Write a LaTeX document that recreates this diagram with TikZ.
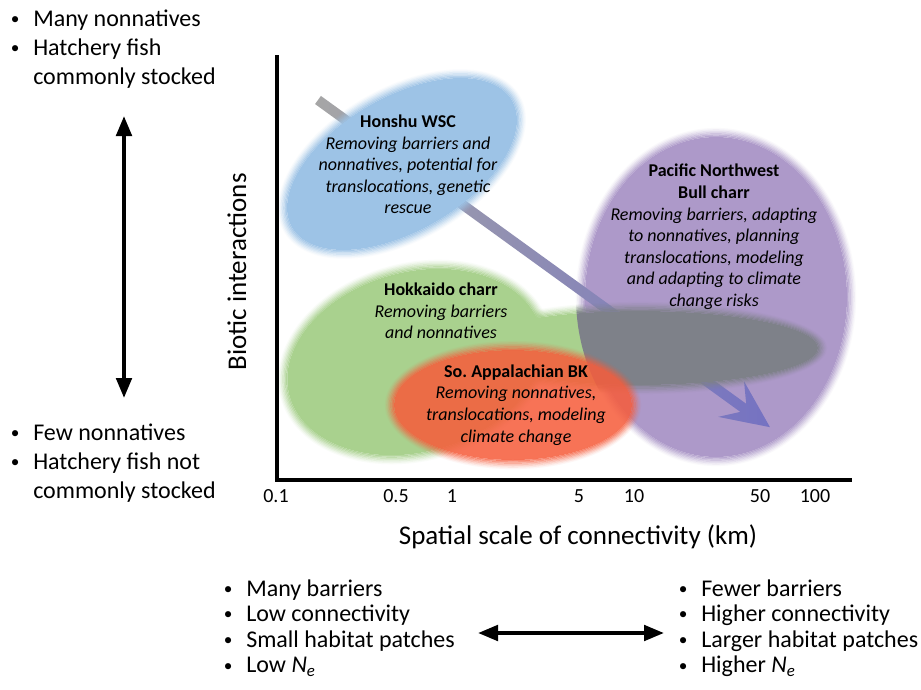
\documentclass[tikz,border=0pt]{standalone}
\usepackage{fontspec}
\setmainfont{Carlito}
\usetikzlibrary{arrows.meta}

\definecolor{blobblue}{HTML}{9DC3E6}
\definecolor{blobgreen}{HTML}{A9D18E}
\definecolor{blobpurple}{HTML}{AD99C9}
\definecolor{blobgray}{HTML}{7E8189}
\definecolor{blobred}{HTML}{F65C3B}
\definecolor{trendgray}{HTML}{A6A6A6}
\definecolor{trendblue}{HTML}{7572C2}

% soft-edged ellipse: colour, centre x, centre y, x radius, y radius, angle, opacity
\newcommand\softblob[7]{%
  \begin{scope}[rotate around={#6:(#2,#3)}]
    \fill[#1, fill opacity=#7] (#2,#3) ellipse [x radius=#4, y radius=#5];
    \foreach \k/\o in {1/0.85,2/0.7,3/0.55,4/0.4,5/0.27,6/0.15,7/0.06} {
      \pgfmathsetmacro\op{#7*\o}
      \fill[#1, fill opacity=\op, even odd rule]
        (#2,#3) ellipse [x radius={#4+(\k-1)*1.3}, y radius={#5+(\k-1)*1.3}]
        (#2,#3) ellipse [x radius={#4+\k*1.3}, y radius={#5+\k*1.3}];
    }
  \end{scope}}

% small bullet hanging to the left of a list line
\newcommand\bul{\llap{\makebox[27pt][c]{\raisebox{0.07em}{\scalebox{0.72}{\textbullet}}}}}

\tikzset{
  listline/.style={anchor=base west, inner sep=0pt, font=\fontsize{18}{21}\selectfont},
  bloblabel/.style={align=center, inner sep=0pt, font=\fontsize{13.5}{16.2}\selectfont},
  ticklabel/.style={anchor=base, inner sep=0pt, font=\fontsize{15}{18}\selectfont},
  axislabel/.style={anchor=base, inner sep=0pt, font=\fontsize{20.25}{24}\selectfont},
  axisline/.style={line width=2.6pt},
  twoway/.style={line width=3pt, {Triangle[length=15pt,width=11.5pt]}-{Triangle[length=15pt,width=11.5pt]}},
}

\begin{document}
\begin{tikzpicture}[x=0.75pt, y=-0.75pt]
  \useasboundingbox (0,0) rectangle (921,689);
  \fill[white] (0,0) rectangle (921,689);

  % Hokkaido region and its band towards larger scales
  \softblob{blobgreen}{415}{362}{130}{90}{15}{1}
  \softblob{blobgreen}{640}{348}{178}{37}{0}{1}

  % Pacific Northwest region
  \softblob{blobpurple}{716}{297}{131}{160}{0}{1}

  % trend arrow
  \begin{scope}[shift={(318,100)}, rotate=-35.9]
    \shade[left color=trendgray, right color=trendblue]
      (0,-5) -- (525,-5) -- (510,-22) -- (558,0) -- (510,22) -- (525,5) -- (0,5) -- cycle;
  \end{scope}

  % overlap of the band with the Pacific Northwest region
  \begin{scope}
    \clip (716,297) ellipse [x radius=140, y radius=169];
    \softblob{blobgray}{640}{348}{178}{37}{0}{1}
  \end{scope}

  % Southern Appalachian region
  \softblob{blobred}{513}{405}{119}{55}{0}{0.86}

  % Honshu region
  \softblob{blobblue}{402}{164}{127}{67}{30}{1}

  % region labels
  \node[bloblabel] (honshu) at (408,164.5)
    {\textbf{Honshu WSC}\\\textit{Removing barriers and}\\\textit{nonnatives, potential for}\\\textit{translocations, genetic}\\\textit{rescue}};
  \node[bloblabel] (hokkaido) at (441,311)
    {\textbf{Hokkaido charr}\\\textit{Removing barriers}\\\textit{and nonnatives}};
  \node[bloblabel] (appalachian) at (516,405)
    {\textbf{So.\ Appalachian BK}\\\textit{Removing nonnatives,}\\\textit{translocations, modeling}\\\textit{climate change}};
  \node[bloblabel] (pnw) at (714,237)
    {\textbf{Pacific Northwest}\\\textbf{Bull charr}\\\textit{Removing barriers, adapting}\\\textit{to nonnatives, planning}\\\textit{translocations, modeling}\\\textit{and adapting to climate}\\\textit{change risks}};

  % axes
  \coordinate (ytop) at (277,55);
  \coordinate (origin) at (277,480);
  \coordinate (xend) at (852,480);
  \draw[axisline] (ytop) -- (origin) -- (xend);

  % scale ticks
  \node[ticklabel] (t01) at (276,502.5) {0.1};
  \node[ticklabel] (t05) at (396,502.5) {0.5};
  \node[ticklabel] (t1) at (452,502.5) {1};
  \node[ticklabel] (t5) at (579,502.5) {5};
  \node[ticklabel] (t10) at (634,502.5) {10};
  \node[ticklabel] (t50) at (760,502.5) {50};
  \node[ticklabel] (t100) at (815,502.5) {100};

  % axis titles
  \node[axislabel] (xtitle) at (578,544) {Spatial scale of connectivity (km)};
  \node[axislabel, rotate=90] (ytitle) at (246,272) {Biotic interactions};

  % biotic interaction gradient
  \coordinate (vtop) at (124,116);
  \coordinate (vbot) at (124,398);
  \draw[twoway] (vtop) -- (vbot);
  \node[listline] (hi1) at (33,26.5) {\bul Many nonnatives};
  \node[listline] (hi2) at (33,55.5) {\bul Hatchery fish};
  \node[listline] (hi3) at (33,84.5) {commonly stocked};
  \node[listline] (lo1) at (33,440) {\bul Few nonnatives};
  \node[listline] (lo2) at (33,469) {\bul Hatchery fish not};
  \node[listline] (lo3) at (33,498) {commonly stocked};

  % connectivity gradient
  \coordinate (hleft) at (478,633);
  \coordinate (hright) at (664,633);
  \draw[twoway] (hleft) -- (hright);
  \node[listline] (sm1) at (246,596) {\bul Many barriers};
  \node[listline] (sm2) at (246,621.6) {\bul Low connectivity};
  \node[listline] (sm3) at (246,647.2) {\bul Small habitat patches};
  \node[listline] (sm4) at (246,672.8) {\bul Low \textit{N\textsubscript{e}}};
  \node[listline] (lg1) at (701,596) {\bul Fewer barriers};
  \node[listline] (lg2) at (701,621.6) {\bul Higher connectivity};
  \node[listline] (lg3) at (701,647.2) {\bul Larger habitat patches};
  \node[listline] (lg4) at (701,672.8) {\bul Higher \textit{N\textsubscript{e}}};
\end{tikzpicture}
\end{document}
